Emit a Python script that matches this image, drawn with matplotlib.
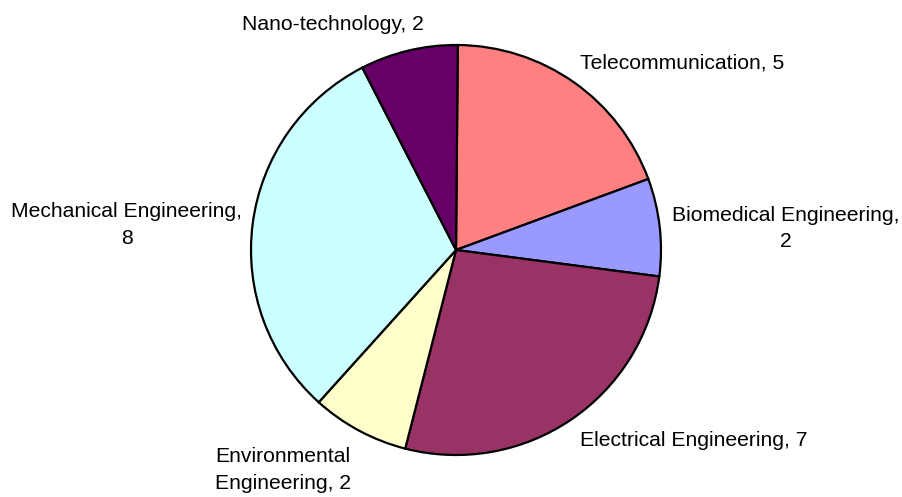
import matplotlib
matplotlib.use("Agg")
import matplotlib.pyplot as plt

labels = ["Telecommunication", "Biomedical Engineering", "Electrical Engineering",
          "Environmental Engineering", "Mechanical Engineering", "Nano-technology"]
values = [5, 2, 7, 2, 8, 2]
colors = ["#FF8080", "#9999FF", "#993366", "#FFFFCC", "#CCFFFF", "#660066"]

# label text as shown, and where each one sits (data units, pie radius = 1)
label_text = ["Telecommunication, 5", "Biomedical Engineering,\n2", "Electrical Engineering, 7",
              "Environmental\nEngineering, 2", "Mechanical Engineering,\n8", "Nano-technology, 2"]
label_pos = [(1.102, 0.912), (1.607, 0.105), (1.159, -0.927),
             (-0.844, -1.073), (-1.607, 0.122), (-0.600, 1.102)]

plt.rcParams['font.family'] = ['Liberation Sans', 'DejaVu Sans']

fig = plt.figure(figsize=(9.03, 4.97), dpi=100)
ax = fig.add_axes([0, 0, 1, 1])
ax.pie(values, colors=colors, startangle=89.5, counterclock=False, radius=1.0,
       wedgeprops=dict(edgecolor="black", linewidth=1.6))

for txt, (x, y) in zip(label_text, label_pos):
    ax.text(x, y, txt, ha="center", va="center", fontsize=15.2,
            multialignment="center", linespacing=1.5)

ax.set_xlim(-456 / 205, (903 - 456) / 205)
ax.set_ylim(-247 / 205, 250 / 205)
ax.set_aspect("equal")
ax.axis("off")

fig.savefig("out.png", dpi=100)
